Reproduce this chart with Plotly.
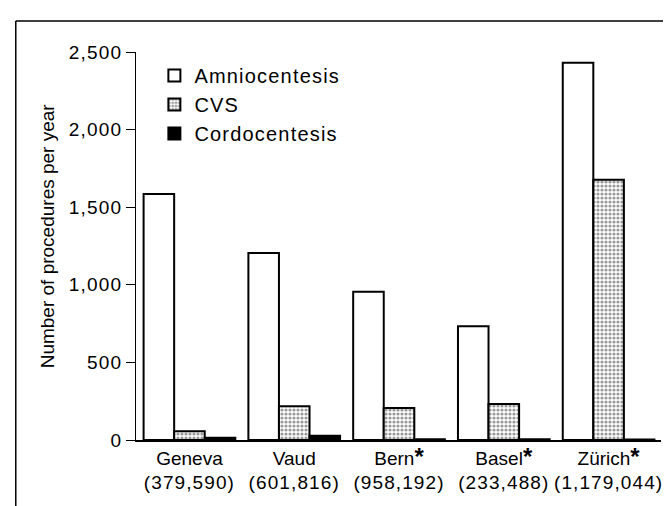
import plotly.graph_objects as go

regions = ["Geneva", "Vaud", "Bern", "Basel", "Zürich"]
populations = ["(379,590)", "(601,816)", "(958,192)", "(233,488)", "(1,179,044)"]
starred = [False, False, True, True, True]
amnio = [1585, 1205, 955, 733, 2430]
cvs = [56, 218, 206, 232, 1677]
cordo = [14, 28, 5, 5, 3]
yticks = [0, 500, 1000, 1500, 2000, 2500]
series_names = ["Amniocentesis", "CVS", "Cordocentesis"]
y_title = "Number of procedures per year"


def spaced(text, px):
    return f"<span style='letter-spacing:{px}px'>{text}</span>"


labels = []
for r, p, s in zip(regions, populations, starred):
    star = "<span style='font-size:24px'><b>*</b></span>" if s else ""
    labels.append(f"{r}{star}<br>{spaced(p, 1.1)}")

ytext = [spaced(f"{v:,}", 1.2) for v in yticks]

FS = 19
font = dict(family="Liberation Sans, Arial, sans-serif", size=FS, color="black")

fig = go.Figure()
fig.add_bar(x=labels, y=amnio, name=spaced(series_names[0], 1.2),
            marker=dict(color="white", line=dict(color="black", width=2)))
fig.add_bar(x=labels, y=cvs, name=spaced(series_names[1], 1.2),
            marker=dict(color="white", line=dict(color="black", width=2),
                        pattern=dict(shape=".", size=4, solidity=0.5,
                                     fgcolor="#333333", bgcolor="white")))
fig.add_bar(x=labels, y=cordo, name=spaced(series_names[2], 1.2),
            marker=dict(color="black", line=dict(color="black", width=2)))

fig.update_layout(
    width=671, height=506,
    margin=dict(l=128, r=18, t=44, b=74, autoexpand=False),
    paper_bgcolor="white", plot_bgcolor="white",
    font=font,
    barmode="group", bargap=0.125, bargroupgap=0,
    showlegend=True,
    legend=dict(x=0.035, y=0.99, xanchor="left", yanchor="top",
                bgcolor="rgba(0,0,0,0)", font=dict(size=20),
                itemwidth=30, tracegroupgap=0),
    xaxis=dict(showline=True, linecolor="black", linewidth=1.5, ticks="",
               range=[-0.51, 4.5], tickfont=dict(size=FS), tickangle=0,
               automargin=False),
    yaxis=dict(range=[0, 2500], tickvals=yticks, ticktext=ytext,
               showline=True, linecolor="black", linewidth=1, ticks="outside",
               ticklen=9, tickcolor="black", showgrid=False, zeroline=False,
               tickfont=dict(size=FS), automargin=False),
    annotations=[
        dict(text=y_title, xref="paper", yref="paper", x=-0.168, y=0.527,
             xanchor="center", yanchor="middle", textangle=-90,
             showarrow=False, font=dict(size=FS)),
    ],
    shapes=[
        dict(type="line", xref="paper", yref="paper", x0=-0.229, x1=1.1,
             y0=1.08, y1=1.08, line=dict(color="black", width=1.5)),
        dict(type="line", xref="paper", yref="paper", x0=-0.229, x1=-0.229,
             y0=1.08, y1=-0.2, line=dict(color="black", width=1.5)),
    ],
)

fig.write_html("out.html")
